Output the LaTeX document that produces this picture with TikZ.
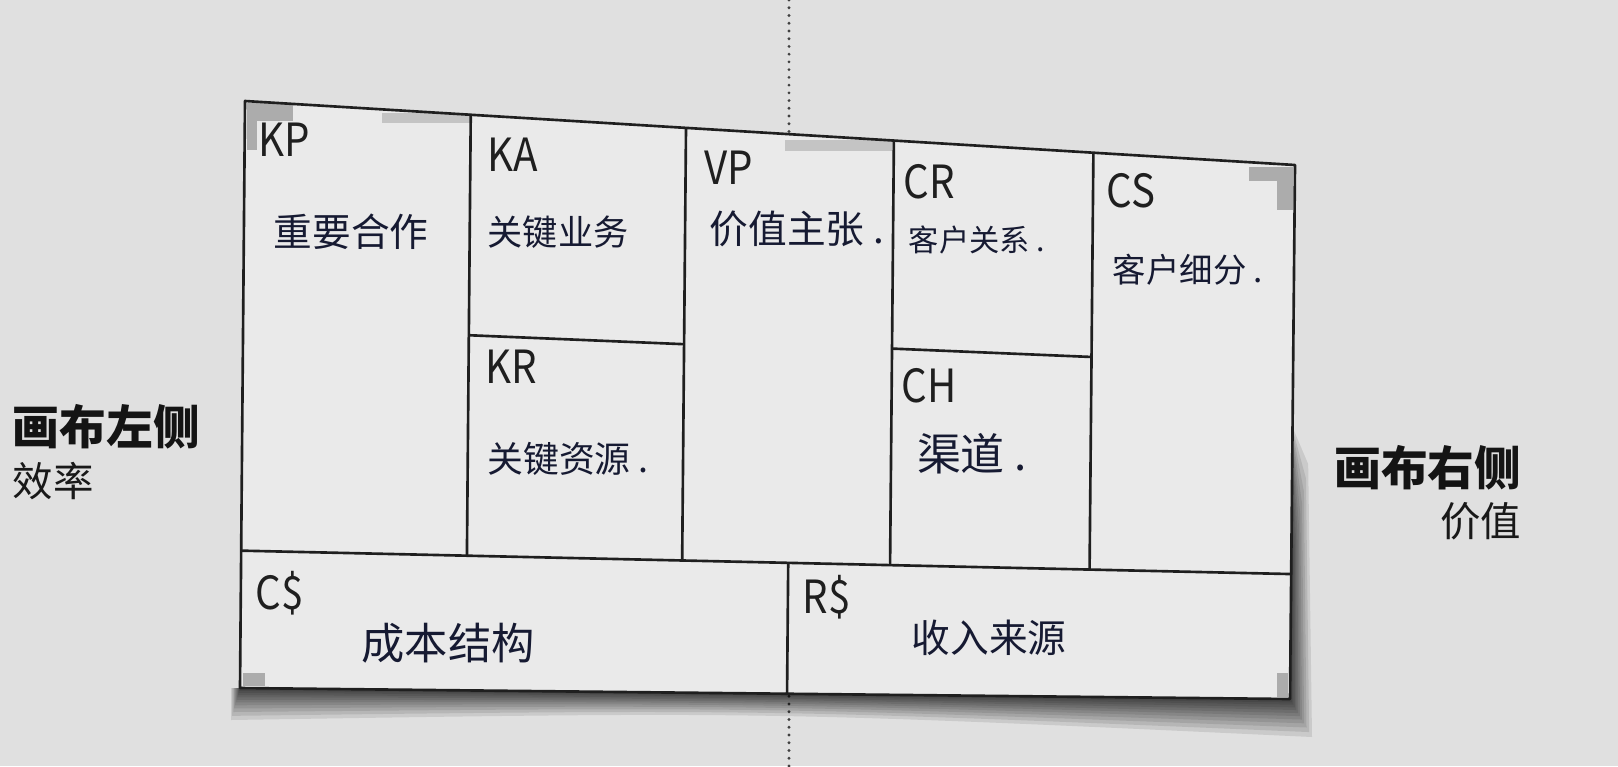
\documentclass[tikz,border=0pt]{standalone}
\usepackage{fontspec}
\newfontfamily\cjk{Noto Sans CJK SC}
\usetikzlibrary{calc}
\definecolor{paper}{RGB}{224,224,224}
\definecolor{sheet}{RGB}{234,234,234}
\definecolor{cornermark}{RGB}{172,172,172}
\definecolor{ink}{RGB}{22,26,50}
\newcommand{\tagtext}[1]{\scalebox{0.88}[1]{#1}}

\begin{document}
\begin{tikzpicture}[x=0.01cm,y=-0.01cm,line join=round]
	\tikzstyle{grid}=[draw=black!88,line width=0.75pt]
	\tikzstyle{tag}=[anchor=base west,inner sep=0pt,text=black!88,font=\cjk\fontsize{13}{13}\selectfont]
	\tikzstyle{hand}=[inner sep=0pt,text=ink,font=\cjk\fontsize{11}{11}\selectfont]
	\tikzstyle{head}=[inner sep=0pt,text=black!92,font=\cjk\bfseries\fontsize{13.3}{13.3}\selectfont]
	\tikzstyle{sub}=[inner sep=0pt,text=black!90,font=\cjk\fontsize{11.5}{11.5}\selectfont]
	\useasboundingbox (0,0) rectangle (1618,766);
	\fill[paper] (0,0) rectangle (1618,766);
	% fold line
	\coordinate (dtop) at (789,0);
	\coordinate (dbot) at (789,766);
	\draw[gray!50!black,line width=0.9pt,line cap=round,dash pattern=on 0pt off 2.2pt] (dtop) -- (dbot);
	% sheet corners
	\coordinate (tl) at (245,101);
	\coordinate (tr) at (1295,165);
	\coordinate (bl) at (240,688);
	\coordinate (br) at (1290,699);
	\coordinate (ml) at ($(tl)!0.766!(bl)$);
	\coordinate (mr) at ($(tr)!0.766!(br)$);
	% shadow
	\foreach \s in {1,0.87,0.75,0.64,0.54,0.45,0.37,0.29,0.22,0.15,0.09}
		\fill[black,opacity=0.095] ($(bl)+(-9*\s,0)$) -- ($(bl)+(-9*\s,32*\s)$)
			.. controls ($(bl)!0.5!(br)+(0,18*\s)$) .. ($(br)+(22*\s,38*\s)$)
			-- ($(mr)+(17*\s,-110*\s)$) -- ($(mr)+(0,-150)$) -- (br) -- cycle;
	\fill[sheet] (tl) -- (tr) -- (br) -- (bl) -- cycle;
	% corner marks
	\fill[cornermark] (247,103) rectangle (293,121);
	\fill[cornermark] (247,103) rectangle (257,150);
	\fill[cornermark,opacity=0.6] (382,113) rectangle (470,123);
	\fill[cornermark,opacity=0.6] (785,140) rectangle (893,151);
	\fill[cornermark] (1249,167) rectangle (1293,181);
	\fill[cornermark] (1277,167) rectangle (1293,210);
	\fill[cornermark] (243,673) rectangle (265,686);
	\fill[cornermark] (1277,673) rectangle (1288,697);
	% lines
	\draw[grid] (tl) -- (tr) -- (br) -- (bl) -- cycle;
	\draw[grid] (ml) -- (mr);
	\foreach \t [count=\i] in {0.215,0.42,0.618,0.808} {
		\coordinate (t\i) at ($(tl)!\t!(tr)$);
		\coordinate (m\i) at ($(ml)!\t!(mr)$);
		\draw[grid] (t\i) -- (m\i);
	}
	\draw[grid] ($(t1)!0.5!(m1)$) -- ($(t2)!0.5!(m2)$);
	\draw[grid] ($(t3)!0.49!(m3)$) -- ($(t4)!0.49!(m4)$);
	\draw[grid] ($(ml)!0.521!(mr)$) -- ($(bl)!0.521!(br)$);
	% block tags
	\node[tag] (KP) at (258,156) {\tagtext{KP}};
	\node[tag] (KA) at (487,171) {\tagtext{KA}};
	\node[tag] (VP) at (704,184) {\tagtext{VP}};
	\node[tag] (CR) at (903,198) {\tagtext{CR}};
	\node[tag] (CS) at (1106,207) {\tagtext{CS}};
	\node[tag] (KR) at (485,383) {\tagtext{KR}};
	\node[tag] (CH) at (901,402) {\tagtext{CH}};
	\node[tag] (Cd) at (255,609) {\tagtext{C\$}};
	\node[tag] (Rd) at (802,613) {\tagtext{R\$}};
	% written notes
	\node[hand] (KPtext) at (351,232) {重要合作};
	\node[hand,font=\cjk\fontsize{10}{10}\selectfont] (KAtext) at (558,232) {关键业务};
	\node[hand] (VPtext) at (797,229) {价值主张 .};
	\node[hand,font=\cjk\fontsize{8.6}{8.6}\selectfont] (CRtext) at (977,240) {客户关系 .};
	\node[hand,font=\cjk\fontsize{9.5}{9.5}\selectfont] (CStext) at (1188,270) {客户细分 .};
	\node[hand,font=\cjk\fontsize{10.2}{10.2}\selectfont] (KRtext) at (568,459) {关键资源 .};
	\node[hand,font=\cjk\fontsize{12.5}{12.5}\selectfont] (CHtext) at (972,454) {渠道 .};
	\node[hand,font=\cjk\fontsize{12.3}{12.3}\selectfont] (Cdtext) at (448,643) {成本结构};
	\node[hand] (Rdtext) at (989,638) {收入来源};
	% side titles
	\node[head,anchor=west] (lefthead) at (12,427) {画布左侧};
	\node[sub,anchor=west] (leftsub) at (12,481) {效率};
	\node[head,anchor=east] (righthead) at (1522,468) {画布右侧};
	\node[sub,anchor=east] (rightsub) at (1522,521) {价值};
\end{tikzpicture}
\end{document}
